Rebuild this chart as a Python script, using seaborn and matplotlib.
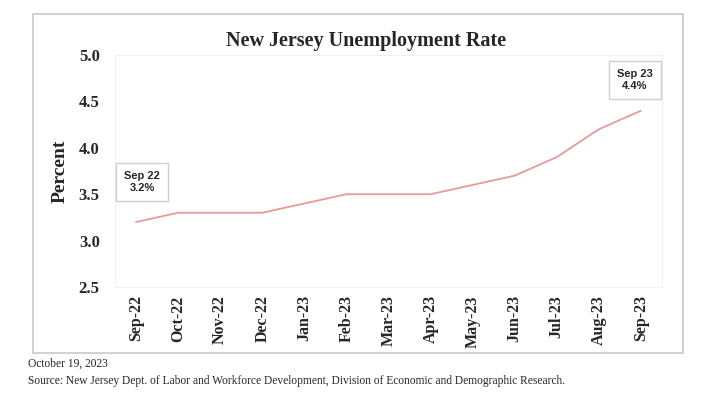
import matplotlib
matplotlib.use("Agg")
import matplotlib.pyplot as plt
import seaborn as sns
import pandas as pd
from matplotlib.patches import Rectangle

months = ["Sep-22", "Oct-22", "Nov-22", "Dec-22", "Jan-23", "Feb-23", "Mar-23",
          "Apr-23", "May-23", "Jun-23", "Jul-23", "Aug-23", "Sep-23"]
rates = [3.2, 3.3, 3.3, 3.3, 3.4, 3.5, 3.5, 3.5, 3.6, 3.7, 3.9, 4.2, 4.4]
yticks = [2.5, 3.0, 3.5, 4.0, 4.5, 5.0]
title = "New Jersey Unemployment Rate"
ylabel = "Percent"
note_date = "October 19, 2023"
note_source = "Source: New Jersey Dept. of Labor and Workforce Development, Division of Economic and Demographic Research."

sns.set_theme(style="white")
plt.rcParams['font.family'] = ['Liberation Serif', 'DejaVu Serif']

df = pd.DataFrame({"month": months, "rate": rates, "idx": range(len(months))})

fig = plt.figure(figsize=(7.2, 4.04), dpi=100)
fig.patch.set_facecolor("white")
W, H = 720, 404
# outer frame
fig.patches.append(Rectangle((33 / W, 1 - 353 / H), (683 - 33) / W, (353 - 14) / H,
                             transform=fig.transFigure, fill=False,
                             edgecolor="#c9c9c9", linewidth=1.2))

ax = fig.add_axes([115 / W, 1 - 287 / H, (662 - 115) / W, (287 - 55) / H])
sns.lineplot(data=df, x="idx", y="rate", ax=ax, color="#e79a9a", linewidth=1.3)

ax.set_xlim(-0.5, 12.5)
ax.set_ylim(2.5, 5.0)
ax.set_yticks(yticks)
ax.set_yticklabels([f"{v:.1f}" for v in yticks], fontsize=12, fontweight="bold")
ax.set_xticks(range(len(months)))
ax.set_xticklabels(months, rotation=90, fontsize=11.5, fontweight="bold")
ax.tick_params(axis="both", length=0, pad=6)
ax.tick_params(axis="y", pad=11)
ax.set_xlabel("")
ax.set_ylabel(ylabel, fontsize=14, fontweight="bold", labelpad=7)
for s in ax.spines.values():
    s.set_color("#f0f0f0")
    s.set_linewidth(0.8)

fig.text(366 / W, 1 - 41 / H, title, ha="center", va="center",
         fontsize=14.5, fontweight="bold")

box = dict(boxstyle="square,pad=0.75", facecolor="white", edgecolor="#cfcfcf", linewidth=1)
ax.annotate(f"Sep 22\n{rates[0]:.1f}%", xy=(0, rates[0]), xytext=(142 / W, 1 - 182 / H),
            textcoords="figure fraction", ha="center", va="center", fontsize=8,
            fontweight="bold", family=["Liberation Sans", "DejaVu Sans"], bbox=box,
            linespacing=1.25)
ax.annotate(f"Sep 23\n{rates[-1]:.1f}%", xy=(12, rates[-1]), xytext=(635 / W, 1 - 80 / H),
            textcoords="figure fraction", ha="center", va="center", fontsize=8,
            fontweight="bold", family=["Liberation Sans", "DejaVu Sans"], bbox=box,
            linespacing=1.25)

fig.text(28 / W, 1 - 364 / H, note_date, ha="left", va="center", fontsize=8.3)
fig.text(28 / W, 1 - 381 / H, note_source, ha="left", va="center", fontsize=8.3)

fig.savefig("out.png", dpi=100, facecolor="white")
